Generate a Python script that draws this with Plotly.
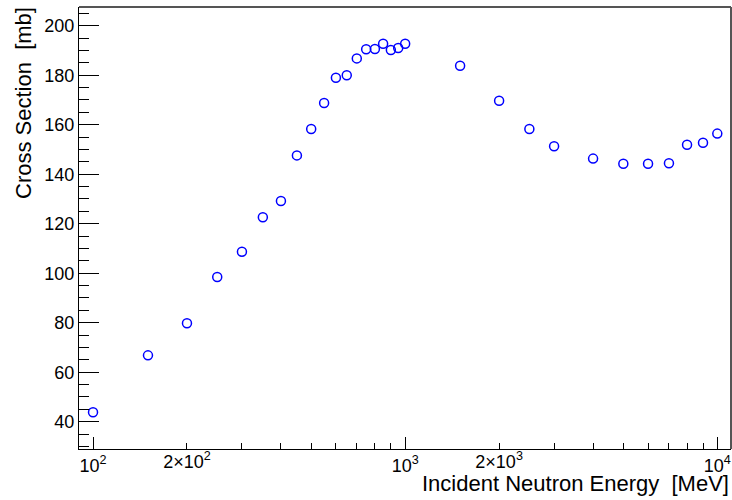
import plotly.graph_objects as go

energy_mev = [100, 150, 200, 250, 300, 350, 400, 450, 500, 550, 600, 650, 700, 750,
              800, 850, 900, 950, 1000, 1500, 2000, 2500, 3000, 4000, 5000, 6000,
              7000, 8000, 9000, 10000]
cross_section_mb = [43.8, 66.8, 79.8, 98.5, 108.7, 122.6, 129.2, 147.6, 158.3, 168.8,
                    179.0, 180.0, 186.8, 190.5, 190.6, 192.7, 190.2, 191.0, 192.7,
                    183.8, 169.7, 158.3, 151.3, 146.3, 144.2, 144.2, 144.4, 151.9,
                    152.7, 156.4]

x_major_vals = [100, 1000, 10000]
x_major_text = ["10<sup>2</sup>", "10<sup>3</sup>", "10<sup>4</sup>"]
x_mid_vals = [200, 2000]
x_mid_text = ["2\u00d710<sup>2</sup>", "2\u00d710<sup>3</sup>"]
x_minor_vals = [90] + [m * d for d in (100, 1000) for m in range(2, 10)]

x_title = "Incident Neutron Energy\u00a0\u00a0[MeV]"
y_title = "Cross Section\u00a0\u00a0[mb]"

x_range_log = [1.9551, 4.0439]
y_range = [28.97, 207.56]

FONT = "Liberation Sans, Arial, Helvetica, sans-serif"

fig = go.Figure()
fig.add_trace(go.Scatter(
    x=energy_mev, y=cross_section_mb, mode="markers",
    marker=dict(symbol="circle-open", size=9, color="#0000ff",
                line=dict(width=1.5, color="#0000ff")),
    showlegend=False, hoverinfo="skip"))
# helper trace to make the secondary x axis (2x10^n labels) exist
fig.add_trace(go.Scatter(
    x=energy_mev, y=cross_section_mb, mode="markers", xaxis="x2",
    marker=dict(opacity=0), showlegend=False, hoverinfo="skip"))

fig.update_layout(
    width=732, height=500,
    margin=dict(l=79, r=1, t=7, b=51),
    paper_bgcolor="white", plot_bgcolor="white",
    font=dict(family=FONT, size=18, color="black"),
    xaxis=dict(
        type="log", range=x_range_log,
        tickmode="array", tickvals=x_major_vals, ticktext=x_major_text,
        ticks="inside", ticklen=12, tickwidth=1, tickcolor="black",
        showline=True, linecolor="black", linewidth=1,
        showgrid=False, zeroline=False,
        tickfont=dict(size=18, family=FONT),
        minor=dict(tickmode="array", tickvals=x_minor_vals, ticks="inside",
                   ticklen=6, tickwidth=1, tickcolor="black", showgrid=False),
    ),
    xaxis2=dict(
        type="log", range=x_range_log, overlaying="x", anchor="y", side="bottom",
        tickmode="array", tickvals=x_mid_vals, ticktext=x_mid_text,
        ticks="inside", ticklen=6, tickwidth=1, tickcolor="black",
        showline=False, showgrid=False, zeroline=False,
        tickfont=dict(size=18, family=FONT),
    ),
    yaxis=dict(
        range=y_range, tickmode="linear", tick0=0, dtick=20,
        ticks="inside", ticklen=20, tickwidth=1, tickcolor="black",
        showline=True, linecolor="black", linewidth=1,
        showgrid=False, zeroline=False,
        tickfont=dict(size=18, family=FONT),
        minor=dict(dtick=5, tick0=0, ticks="inside", ticklen=10, tickwidth=1,
                   tickcolor="black", showgrid=False),
    ),
    shapes=[
        dict(type="line", xref="paper", yref="paper", x0=0, x1=1, y0=1, y1=1,
             line=dict(color="#555555", width=2)),
        dict(type="line", xref="paper", yref="paper", x0=1, x1=1, y0=0, y1=1,
             line=dict(color="#555555", width=2)),
    ],
    annotations=[
        dict(text=x_title, xref="paper", yref="paper", x=1, y=0,
             xanchor="right", yanchor="top", yshift=-20, xshift=0,
             showarrow=False, font=dict(size=22, family=FONT, color="black")),
        dict(text=y_title, xref="paper", yref="paper", x=0, y=1,
             xanchor="center", yanchor="top", textangle=-90, xshift=-56, yshift=2,
             showarrow=False, font=dict(size=22, family=FONT, color="black")),
    ],
)

fig.write_html("out.html")
